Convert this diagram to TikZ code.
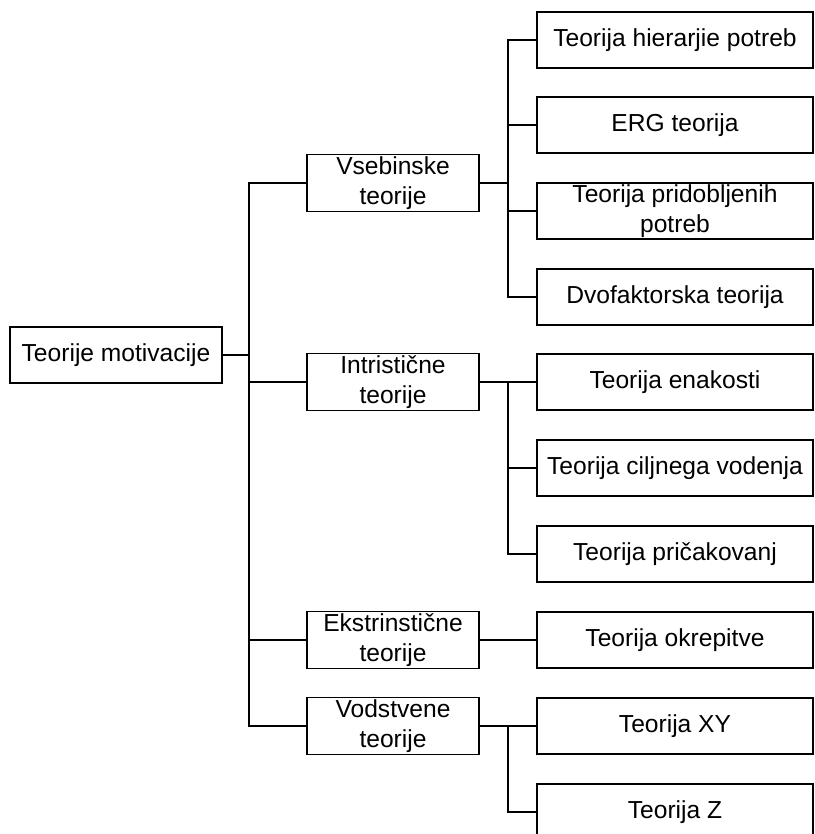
\documentclass[tikz,border=0pt]{standalone}
\usepackage{fontspec}
\setmainfont{Liberation Sans}
\begin{document}
\begin{tikzpicture}[x=0.5pt, y=-0.5pt, line width=0.7pt,
    box/.style={draw, align=center, inner sep=0pt, font=\fontsize{12.3}{14.7}\selectfont},
    rootbox/.style={box, minimum width=106pt, minimum height=28pt},
    midbox/.style={box, minimum width=86pt, minimum height=28.5pt},
    leafbox/.style={box, minimum width=138pt, minimum height=28pt}]
  \useasboundingbox (0,0) rectangle (814,834);
  \clip (0,0) rectangle (814,834);
  % root
  \node[rootbox] (root) at (116,355) {Teorije motivacije};
  % groups
  \node[midbox] (vseb) at (393,183) {Vsebinske\\teorije};
  \node[midbox] (intr) at (393,382) {Intristične\\teorije};
  \node[midbox] (ekst) at (393,640) {Ekstrinstične\\teorije};
  \node[midbox] (vods) at (393,726) {Vodstvene\\teorije};
  % theories
  \node[leafbox] (hier) at (675,40) {Teorija hierarjie potreb};
  \node[leafbox] (erg)  at (675,125) {ERG teorija};
  \node[leafbox] (prid) at (675,211) {Teorija pridobljenih\\potreb};
  \node[leafbox] (dvof) at (675,297) {Dvofaktorska teorija};
  \node[leafbox] (enak) at (675,382) {Teorija enakosti};
  \node[leafbox] (cilj) at (675,468) {Teorija ciljnega vodenja};
  \node[leafbox] (pric) at (675,554) {Teorija pričakovanj};
  \node[leafbox] (okre) at (675,640) {Teorija okrepitve};
  \node[leafbox] (xy)   at (675,726) {Teorija XY};
  \node[leafbox] (z)    at (675,812) {Teorija Z};
  % junctions
  \coordinate (j0) at (249,355);
  \coordinate (j1) at (508,183);
  \coordinate (j2) at (508,382);
  \coordinate (j4) at (508,726);
  % connectors
  \draw (root) -- (j0);
  \foreach \m in {vseb,intr,ekst,vods}
    \draw (j0) |- (\m.west);
  \draw (vseb) -- (j1);
  \foreach \l in {hier,erg,prid,dvof}
    \draw (j1) |- (\l.west);
  \draw (intr) -- (j2);
  \foreach \l in {enak,cilj,pric}
    \draw (j2) |- (\l.west);
  \draw (ekst) -- (okre);
  \draw (vods) -- (j4);
  \foreach \l in {xy,z}
    \draw (j4) |- (\l.west);
\end{tikzpicture}
\end{document}
